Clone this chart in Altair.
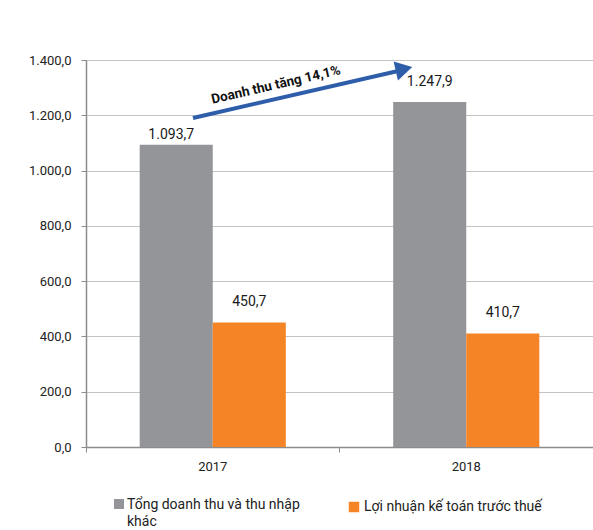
import altair as alt
import pandas as pd

years = ["2017", "2018"]
series = ["Tổng doanh thu và thu nhập khác", "Lợi nhuận kế toán trước thuế"]
revenue = [1093.7, 1247.9]
profit = [450.7, 410.7]
y_ticks = [0, 200, 400, 600, 800, 1000, 1200, 1400]
annotation = "Doanh thu tăng 14,1%"
colors = ["#939598", "#F58426"]

rows = []
for i, yr in enumerate(years):
    rows.append({"year": yr, "series": series[0], "value": revenue[i], "k": 0})
    rows.append({"year": yr, "series": series[1], "value": profit[i], "k": 1})
df = pd.DataFrame(rows)

FONT = "Roboto"
vn_fmt = "replace(replace(replace(format({v}, ',.1f'), ',', '_'), '.', ','), '_', '.')"

base = alt.Chart(df).encode(
    x=alt.X("year:N", sort=years, title=None,
            scale=alt.Scale(paddingInner=0, paddingOuter=0),
            axis=alt.Axis(labelAngle=0, bandPosition=0, tickSize=5, tickColor="#8C8C8C",
                          domainColor="#8C8C8C", domainWidth=1.5, labelFont=FONT,
                          labelFontSize=13, labelColor="#222222", labelPadding=8, grid=False)),
    xOffset=alt.XOffset("series:N", sort=series,
                        scale=alt.Scale(paddingInner=0, paddingOuter=0.735)),
    y=alt.Y("value:Q", title=None,
            scale=alt.Scale(domain=[0, 1400], nice=False),
            axis=alt.Axis(values=y_ticks, labelExpr=vn_fmt.format(v="datum.value"),
                          tickSize=5, tickColor="#8C8C8C", domainColor="#8C8C8C",
                          domainWidth=1.5, gridColor="#C4C4C4", gridWidth=1,
                          labelFont=FONT, labelFontSize=13, labelColor="#222222",
                          labelPadding=10)),
)

bars = base.mark_bar().encode(
    color=alt.Color("series:N", sort=series,
                    scale=alt.Scale(domain=series, range=colors), legend=None)
)

lab = base.transform_calculate(label=vn_fmt.format(v="datum.value"))
labels_main = lab.transform_filter(
    "!(datum.year == '2017' && datum.k == 0)"
).mark_text(baseline="bottom", dy=-13, font=FONT, fontSize=14, color="#1A1A1A").encode(
    text="label:N")
labels_low = lab.transform_filter(
    "datum.year == '2017' && datum.k == 0"
).mark_text(baseline="bottom", dy=-3, dx=-5, font=FONT, fontSize=14, color="#1A1A1A").encode(
    text="label:N")

one = pd.DataFrame({"a": [0]})
BLUE = "#2E5DAA"
arrow_line = alt.Chart(one).mark_rule(color=BLUE, strokeWidth=4).encode(
    x=alt.value(107), y=alt.value(58), x2=alt.value(312), y2=alt.value(11))
arrow_head = alt.Chart(one).mark_point(shape="triangle-right", filled=True, color=BLUE,
                                       opacity=1, size=380, angle=347).encode(
    x=alt.value(318), y=alt.value(9))
arrow_text = alt.Chart(one).mark_text(font=FONT, fontSize=13.5, fontWeight="bold",
                                      color="#111111", angle=347).encode(
    x=alt.value(190), y=alt.value(25), text=alt.value(annotation))

leg_sq1 = alt.Chart(one).mark_square(color=colors[0], size=100, opacity=1).encode(
    x=alt.value(33), y=alt.value(444))
leg_sq2 = alt.Chart(one).mark_square(color=colors[1], size=110, opacity=1).encode(
    x=alt.value(268), y=alt.value(447))
leg_t1 = alt.Chart(one).mark_text(align="left", baseline="middle", font=FONT, fontSize=14,
                                  color="#222222", lineBreak="\n", lineHeight=17).encode(
    x=alt.value(41), y=alt.value(445),
    text=alt.value(series[0].replace(" khác", "\nkhác")))
leg_t2 = alt.Chart(one).mark_text(align="left", baseline="middle", font=FONT, fontSize=14,
                                  color="#222222").encode(
    x=alt.value(278), y=alt.value(447), text=alt.value(series[1]))

chart = alt.layer(
    bars, labels_main, labels_low, arrow_line, arrow_head, arrow_text,
    leg_sq1, leg_sq2, leg_t1, leg_t2
).properties(
    width=507, height=387,
    autosize=alt.AutoSizeParams(type="none"),
    padding={"left": 86, "top": 60, "right": 0, "bottom": 83},
).configure_view(stroke=None).configure(background="white")

chart.save("out.html", embed_options={"renderer": "svg", "actions": False})
